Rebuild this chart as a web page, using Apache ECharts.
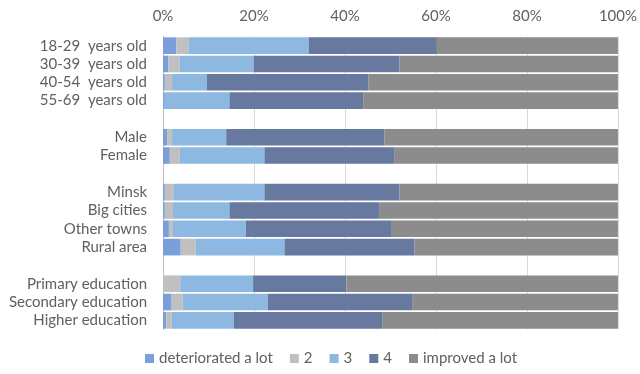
<!DOCTYPE html>
<html>
<head>
<meta charset="utf-8">
<script src="https://cdn.jsdelivr.net/npm/echarts@6/dist/echarts.min.js"></script>
<style>html,body{margin:0;padding:0;background:#fff}#c{width:640px;height:374px}</style>
</head>
<body>
<div id="c"></div>
<script>
const categories = ["18-29  years old","30-39  years old","40-54  years old","55-69  years old"," ","Male","Female","  ","Minsk","Big cities","Other towns","Rural area","   ","Primary education","Secondary education","Higher education"];
const seriesNames = ["deteriorated a lot","2","3","4","improved a lot"];
const deterioratedALot = [2.9,1.2,0.4,0.2,null,0.9,1.5,null,0.4,0.4,1.3,3.9,null,0,1.9,0.7];
const level2 = [2.8,2.5,1.6,0,null,1.1,2.2,null,2.0,1.8,0.9,3.3,null,3.8,2.4,1.2];
const level3 = [26.3,16.2,7.6,14.4,null,11.9,18.6,null,19.9,12.4,16.0,19.5,null,16.0,18.7,13.7];
const level4 = [28.2,32.1,35.6,29.4,null,34.8,28.5,null,29.7,32.9,32.1,28.6,null,20.5,31.9,32.7];
const improvedALot = [39.8,48.0,54.8,56.0,null,51.3,49.2,null,48.0,52.5,49.7,44.7,null,59.7,45.1,51.7];
const tickValues = [0,20,40,60,80,100];

const colors = ["#7b9fdb","#c0c0c0","#8db8e2","#67799f","#8c8c8c"];
const allData = [deterioratedALot, level2, level3, level4, improvedALot];
const font = "Lato, 'Open Sans', sans-serif";
const textColor = '#606060';

const chart = echarts.init(document.getElementById('c'), null, {renderer:'canvas'});
chart.setOption({
  animation:false,
  color: colors,
  textStyle:{fontFamily:font},
  grid:{left:163, right:20, top:36.5, bottom:44.5, containLabel:false},
  xAxis:{
    type:'value', position:'top', min:tickValues[0], max:tickValues[tickValues.length-1], interval:20,
    axisLine:{show:false}, axisTick:{show:false},
    splitLine:{show:true, lineStyle:{color:'#d9d9d9', width:1}},
    axisLabel:{formatter:v=>v+'%', color:textColor, fontSize:15, fontFamily:font, margin:13}
  },
  yAxis:{
    type:'category', data:categories, inverse:true,
    axisLine:{show:true, lineStyle:{color:'#bfbfbf', width:1}},
    axisTick:{show:false},
    axisLabel:{interval:0, hideOverlap:false, color:textColor, fontSize:15, lineHeight:15, fontFamily:font, margin:16}
  },
  legend:{
    data:seriesNames, left:140, top:346, icon:'rect', itemWidth:9, itemHeight:9, itemGap:17,
    textStyle:{color:textColor, fontSize:15, fontFamily:font}
  },
  series: seriesNames.map((n,i)=>({
    name:n, type:'bar', stack:'total', data:allData[i],
    barCategoryGap:'9%', itemStyle:{color:colors[i]}
  }))
});
</script>
</body>
</html>
